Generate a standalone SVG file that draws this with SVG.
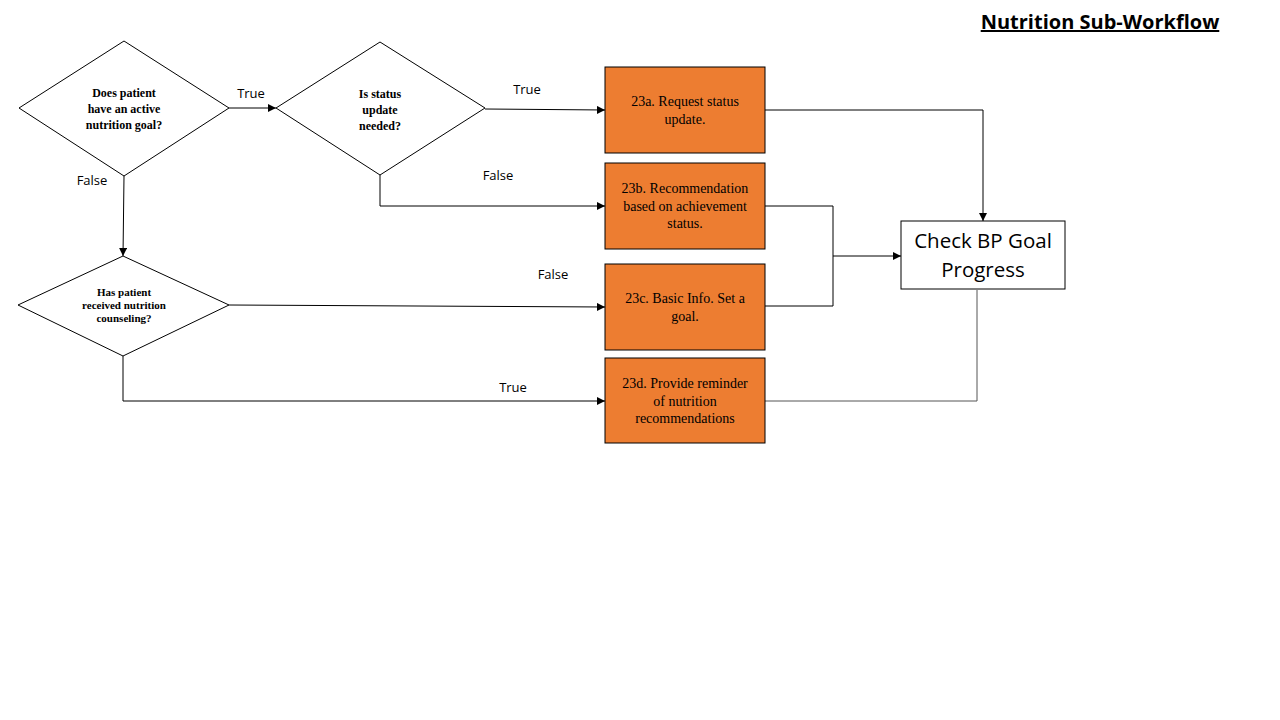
<svg xmlns="http://www.w3.org/2000/svg" width="1280" height="720" viewBox="0 0 1280 720">
<defs>
<marker id="arr" viewBox="0 0 10 10" refX="10" refY="5" markerWidth="8" markerHeight="8" markerUnits="userSpaceOnUse" orient="auto">
<path d="M0,0 L10,5 L0,10 z" fill="#000"/>
</marker>
<style>
.dia{fill:#fff;stroke:#000;stroke-width:1}
.box{fill:#ED7D31;stroke:#000;stroke-width:1}
.wbox{fill:#fff;stroke:#000;stroke-width:1}
.dt{font-family:"Liberation Serif",serif;font-weight:bold;font-size:12px;fill:#000;text-anchor:middle}
.dt3{font-family:"Liberation Serif",serif;font-weight:bold;font-size:11px;fill:#000;text-anchor:middle}
.bt{font-family:"Liberation Serif",serif;font-size:14px;fill:#000;text-anchor:middle}
.lbl{font-family:"Open Sans","Liberation Sans",sans-serif;font-size:13px;fill:#000;text-anchor:middle}
.big{font-family:"Open Sans","Liberation Sans",sans-serif;font-size:20.5px;fill:#000;text-anchor:middle}
.con{fill:none;stroke:#000;stroke-width:1}
.gcon{fill:none;stroke:#555;stroke-width:1}
</style>
</defs>
<rect width="1280" height="720" fill="#fff"/>
<g id="title">
<text x="1100" y="29" font-family="'Open Sans','Liberation Sans',sans-serif" font-weight="bold" font-size="20" text-anchor="middle" text-decoration="underline">Nutrition Sub-Workflow</text>
</g>
<g id="connectors">
<path class="con" d="M229,108 L276,108" marker-end="url(#arr)"/>
<path class="con" d="M485,109 L605,110" marker-end="url(#arr)"/>
<path class="con" d="M380,175 L380,206 L605,206" marker-end="url(#arr)"/>
<path class="con" d="M124,176 L123,256" marker-end="url(#arr)"/>
<path class="con" d="M229,305 L605,307" marker-end="url(#arr)"/>
<path class="con" d="M123,356 L123,401 L605,401" marker-end="url(#arr)"/>
<path class="con" d="M765,110 L983,110 L983,221" marker-end="url(#arr)"/>
<path class="con" d="M765,206 L833,206 L833,306 L765,306"/>
<path class="con" d="M833,256 L901,256" stroke-width="1.5" marker-end="url(#arr)"/>
<path class="gcon" d="M765,401 L977,401 L977,290"/>
<text class="lbl" x="251" y="98">True</text>
<text class="lbl" x="527" y="94">True</text>
<text class="lbl" x="498" y="180">False</text>
<text class="lbl" x="92" y="185">False</text>
<text class="lbl" x="553" y="279">False</text>
<text class="lbl" x="513" y="392">True</text>
</g>
<g id="d1">
<polygon class="dia" points="19,108 124,41 229,108 124,176"/>
<text class="dt" x="124" y="97">Does patient</text>
<text class="dt" x="124" y="113">have  an active</text>
<text class="dt" x="124" y="129">nutrition  goal?</text>
</g>
<g id="d2">
<polygon class="dia" points="276,108 380,42 485,108 380,175"/>
<text class="dt" x="380" y="98">Is status</text>
<text class="dt" x="380" y="114">update</text>
<text class="dt" x="380" y="130">needed?</text>
</g>
<g id="d3">
<polygon class="dia" points="18,305 123,256 229,305 123,356"/>
<text class="dt3" x="124" y="296">Has patient</text>
<text class="dt3" x="124" y="309">received nutrition</text>
<text class="dt3" x="124" y="322">counseling?</text>
</g>
<g id="b23a">
<rect class="box" x="605" y="67" width="160" height="86"/>
<text class="bt" x="685" y="106">23a. Request status</text>
<text class="bt" x="685" y="124">update.</text>
</g>
<g id="b23b">
<rect class="box" x="605" y="163" width="160" height="86"/>
<text class="bt" x="685" y="193">23b. Recommendation</text>
<text class="bt" x="685" y="211">based on achievement</text>
<text class="bt" x="685" y="228">status.</text>
</g>
<g id="b23c">
<rect class="box" x="605" y="264" width="160" height="86"/>
<text class="bt" x="685" y="303">23c. Basic Info. Set a</text>
<text class="bt" x="685" y="321">goal.</text>
</g>
<g id="b23d">
<rect class="box" x="605" y="358" width="160" height="85"/>
<text class="bt" x="685" y="388">23d. Provide reminder</text>
<text class="bt" x="685" y="406">of nutrition</text>
<text class="bt" x="685" y="423">recommendations</text>
</g>
<g id="check">
<rect class="wbox" x="901" y="221" width="164" height="68"/>
<text class="big" x="983" y="248">Check BP Goal</text>
<text class="big" x="983" y="277">Progress</text>
</g>
</svg>
